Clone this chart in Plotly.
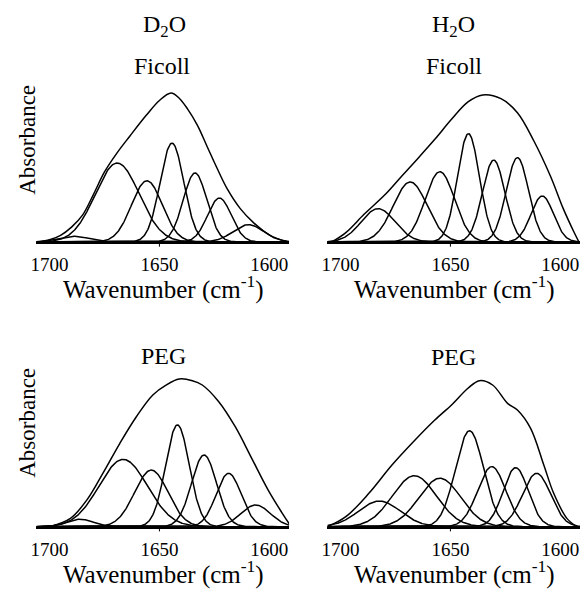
import numpy as np
import plotly.graph_objects as go
from plotly.subplots import make_subplots

# ---------------- data ----------------
tick_vals = [1700, 1650, 1600]
x_range = [1706, 1591]

# D2O / Ficoll
tl_env_wn = [1705, 1700, 1695, 1690, 1685, 1680, 1675, 1669.2, 1663.5, 1656, 1650, 1644.7, 1641, 1637.3, 1632.7, 1628.2, 1623.7, 1619.2, 1613.2, 1607.2, 1599.7, 1592.2]
tl_env_abs = [0, 0.015, 0.045, 0.1, 0.18, 0.32, 0.47, 0.6, 0.71, 0.85, 0.95, 1.0, 0.965, 0.895, 0.783, 0.638, 0.493, 0.358, 0.224, 0.13, 0.045, 0.005]
tl_centers = [1689, 1669.2, 1655.7, 1644.3, 1633.8, 1622.7, 1609.5]
tl_heights = [0.038, 0.53, 0.411, 0.664, 0.463, 0.295, 0.116]
tl_sigmas = [7, 10, 7, 5.4, 5.4, 5.4, 7]

# H2O / Ficoll
tr_env_wn = [1704, 1697.6, 1689.3, 1679.6, 1672.1, 1664.5, 1657.1, 1649.5, 1642, 1635.3, 1627, 1619.5, 1612, 1604.5, 1598.5, 1594, 1591.5]
tr_env_abs = [0, 0.063, 0.186, 0.32, 0.443, 0.566, 0.689, 0.823, 0.94, 0.987, 0.962, 0.868, 0.678, 0.443, 0.219, 0.074, 0]
tr_centers = [1682.9, 1668.3, 1654.8, 1641.8, 1630.3, 1619.5, 1608.2]
tr_heights = [0.224, 0.403, 0.472, 0.727, 0.55, 0.566, 0.309]
tr_sigmas = [7.7, 7.7, 6.7, 5.0, 5.1, 5.1, 5.1]

# D2O / PEG
bl_env_wn = [1700, 1690.5, 1683, 1675.5, 1668, 1660.5, 1653, 1647, 1641, 1635, 1630.5, 1623, 1615.5, 1608, 1600.5, 1594.5, 1590.5]
bl_env_abs = [0, 0.056, 0.18, 0.365, 0.56, 0.738, 0.884, 0.95, 0.991, 0.98, 0.951, 0.839, 0.671, 0.459, 0.246, 0.1, 0.01]
bl_centers = [1686, 1666.5, 1653.7, 1641.8, 1629.7, 1618.5, 1606.2]
bl_heights = [0.05, 0.452, 0.38, 0.683, 0.481, 0.358, 0.146]
bl_sigmas = [6, 11, 7.6, 5.4, 5.7, 5.7, 6.7]

# H2O / PEG
br_env_wn = [1705.9, 1697.6, 1687.1, 1676.6, 1666.1, 1657.1, 1649.5, 1642, 1636.8, 1630.8, 1624, 1619.5, 1613.5, 1607.5, 1603, 1597, 1592.5]
br_env_abs = [0, 0.067, 0.224, 0.414, 0.582, 0.716, 0.817, 0.929, 0.98, 0.951, 0.828, 0.783, 0.66, 0.414, 0.224, 0.056, 0]
br_centers = [1682.3, 1666.4, 1654.8, 1641.3, 1631.2, 1620.3, 1610.8]
br_heights = [0.172, 0.342, 0.325, 0.644, 0.403, 0.396, 0.358]
br_sigmas = [9.5, 10, 9.5, 6.4, 6.4, 5.7, 6.4]

panels = [
    (1, 1, tl_env_wn, tl_env_abs, tl_centers, tl_heights, tl_sigmas),
    (1, 2, tr_env_wn, tr_env_abs, tr_centers, tr_heights, tr_sigmas),
    (2, 1, bl_env_wn, bl_env_abs, bl_centers, bl_heights, bl_sigmas),
    (2, 2, br_env_wn, br_env_abs, br_centers, br_heights, br_sigmas),
]

FONT = "Liberation Serif"
W, H = 585, 597

fig = make_subplots(rows=2, cols=2)
wn = np.linspace(x_range[0], x_range[1], 461)
line = dict(color="black", width=1.5)

for r, c, ew, ea, cs, hs, ss in panels:
    fig.add_trace(go.Scatter(x=ew, y=ea, mode="lines",
                             line=dict(color="black", width=1.5, shape="spline", smoothing=1.0),
                             showlegend=False, hoverinfo="skip"), row=r, col=c)
    for c0, h0, s0 in zip(cs, hs, ss):
        y = h0 * np.exp(-((wn - c0) ** 2) / (2 * s0 ** 2))
        fig.add_trace(go.Scatter(x=wn, y=y, mode="lines", line=line, showlegend=False, hoverinfo="skip"),
                      row=r, col=c)

# domains (pixel -> paper)
def px_x(p):
    return p / W

def px_y(p):
    return 1 - p / H

xdom = {1: [px_x(30.7), px_x(286.0)], 2: [px_x(324.7), px_x(580.0)]}
base = {1: 242.0, 2: 526.7}
unit = 149.0
y_range = [0, 1.05]
ydom = {r: [px_y(base[r]), px_y(base[r] - unit * y_range[1])] for r in (1, 2)}

for r in (1, 2):
    for c in (1, 2):
        fig.update_xaxes(row=r, col=c, domain=xdom[c], range=x_range, tickvals=tick_vals,
                         ticks="", showline=True, linecolor="black", linewidth=2,
                         showgrid=False, zeroline=False,
                         tickfont=dict(family=FONT, size=19, color="black"),
                         ticklabelstandoff=4)
        fig.update_yaxes(row=r, col=c, domain=ydom[r], range=y_range, visible=False,
                         showgrid=False, zeroline=False)

# single tick mark at 1650 on each panel
shapes = []
axis_names = {(1, 1): ("x", "y"), (1, 2): ("x2", "y2"), (2, 1): ("x3", "y3"), (2, 2): ("x4", "y4")}
for (r, c), (xa, ya) in axis_names.items():
    shapes.append(dict(type="line", xref=xa, yref=ya + " domain", x0=tick_vals[1], x1=tick_vals[1],
                       y0=0, y1=-0.03, line=dict(color="black", width=1)))

annotations = []
def ann(text, x, y, size, angle=0):
    annotations.append(dict(text=text, x=px_x(x), y=px_y(y), xref="paper", yref="paper",
                            xanchor="center", yanchor="middle", showarrow=False, textangle=angle,
                            font=dict(family=FONT, size=size, color="black")))

ann("D<sub>2</sub>O", 160, 26, 24)
ann("H<sub>2</sub>O", 452, 26, 24)
ann("Ficoll", 158, 66, 24)
ann("Ficoll", 453, 66, 24)
ann("PEG", 159, 356, 24)
ann("PEG", 452, 357, 24)
ann("Absorbance", 21, 140, 23, -90)
ann("Absorbance", 21, 423, 23, -90)
for cx in (159, 453):
    ann("Wavenumber (cm<sup>-1</sup>)", cx, 287, 25)
    ann("Wavenumber (cm<sup>-1</sup>)", cx, 572, 25)

fig.update_layout(width=W, height=H, margin=dict(l=0, r=0, t=0, b=0),
                  paper_bgcolor="white", plot_bgcolor="white",
                  shapes=shapes, annotations=annotations,
                  font=dict(family=FONT, color="black"))

fig.write_html("out.html")
